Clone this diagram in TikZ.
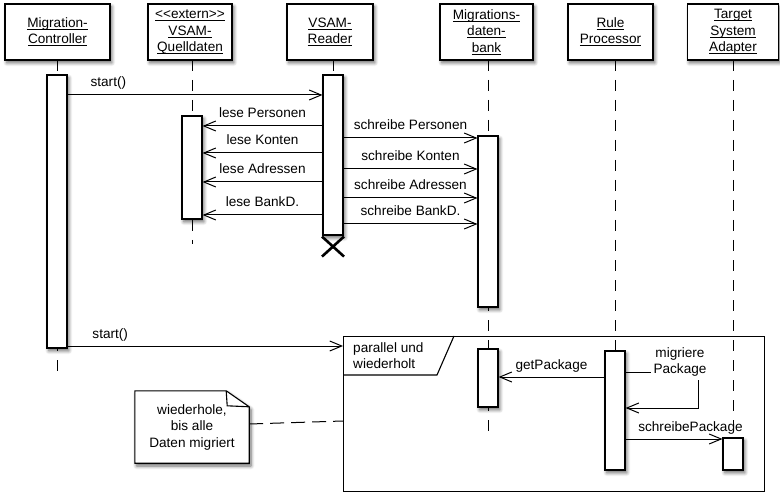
\documentclass[tikz,border=0pt]{standalone}
\usepackage{fontspec}
\setmainfont{Liberation Sans}[Ligatures=TeXOff]
\usetikzlibrary{arrows.meta,shadows.blur}

\newcommand{\txtsize}{\fontsize{13.6}{16.5}\selectfont}
% underline with a rule heavy enough to stay visible
\newcommand{\hdrul}[1]{\setbox0\hbox{#1}\rlap{\rule[-2.4pt]{\wd0}{1pt}}\box0}

\tikzset{
  softshadow/.style={blur shadow={shadow xshift=1.8pt, shadow yshift=-2.8pt,
      shadow blur steps=6, shadow blur radius=3.5pt, shadow opacity=60}},
  hdr/.style={draw, line width=1.1pt, fill=white, softshadow, minimum height=56,
      align=center, inner sep=0pt, font=\txtsize},
  act/.style={draw, line width=1.1pt, fill=white, softshadow, minimum width=20,
      inner sep=0pt},
  life/.style={line width=1pt, dash pattern=on 11pt off 9pt},
  msg/.style={line width=1pt,
      -{Straight Barb[length=12pt, width=10pt, line width=1pt]}},
  lbl/.style={font=\txtsize, anchor=base, inner sep=0pt, yshift=8pt},
  txt/.style={font=\txtsize, inner sep=0pt},
  notelink/.style={line width=1pt, dash pattern=on 14pt off 7pt},
}

\begin{document}
\begin{tikzpicture}[x=1pt, y=-1pt]
\useasboundingbox (0,0) rectangle (780,492);

% lifeline axes
\coordinate (xC) at (57,0);
\coordinate (xQ) at (192,0);
\coordinate (xR) at (333,0);
\coordinate (xD) at (488,0);
\coordinate (xP) at (615,0);
\coordinate (xT) at (733,0);

% dashed lifelines
\draw[life] (xC |- 0,60) -- (xC |- 0,372);
\draw[life] (xQ |- 0,60) -- (xQ |- 0,244);
\draw[life] (xR |- 0,60) -- (xR |- 0,75);
\draw[life] (xD |- 0,60) -- (xD |- 0,436);
\draw[life] (xP |- 0,60) -- (xP |- 0,478);
\draw[life] (xT |- 0,60) -- (xT |- 0,477);

% participants
\node[hdr, minimum width=105] (hC) at (57.5,32) {\hdrul{Migration-}\\\hdrul{Controller}};
\node[hdr, minimum width=84]  (hQ) at (190,32) {\hdrul{<<extern>>}\\\hdrul{VSAM-}\\\hdrul{Quelldaten}};
\node[hdr, minimum width=86]  (hR) at (330,32) {\hdrul{VSAM-}\\\hdrul{Reader}};
\node[hdr, minimum width=93]  (hD) at (486.5,32) {\hdrul{Migrations-}\\\hdrul{daten-}\\\hdrul{bank}};
\node[hdr, minimum width=85]  (hP) at (610.5,32) {\hdrul{Rule}\\\hdrul{Processor}};
\node[hdr, minimum width=91]  (hT) at (733,32) {\hdrul{Target}\\\hdrul{System}\\\hdrul{Adapter}};

% combined fragment
\node[draw, line width=1.1pt, minimum width=421, minimum height=155, anchor=north west,
      inner sep=0pt] (frame) at (343,336) {};
\draw[line width=1.1pt] (frame.west |- 0,375) -- (437,375) -- (454,336);
\node[txt, align=left, anchor=west] (tab) at (353,355.5) {parallel und\\wiederholt};

% activations
\node[act, minimum height=273] (aC)  at (57,211.5) {};
\node[act, minimum height=160] (aR)  at (333,155) {};
\node[act, minimum height=103] (aQ)  at (192,167.5) {};
\node[act, minimum height=171] (aD1) at (488,221.5) {};
\node[act, minimum height=58]  (aD2) at (488,378) {};
\node[act, minimum height=119] (aP)  at (615,410.5) {};
\node[act, minimum height=32]  (aT)  at (733,454) {};

% destruction of the reader
\draw[line width=2.6pt] ([xshift=-11pt, yshift=-1pt]aR.south) -- ([xshift=11pt, yshift=-21pt]aR.south)
                        ([xshift=11pt, yshift=-1pt]aR.south) -- ([xshift=-11pt, yshift=-21pt]aR.south);

% messages
\draw[msg] (aC.east |- 0,95) -- node[lbl, pos=0.16] {start()} (aR.west |- 0,95);

\draw[msg] (aR.west |- 0,126) -- node[lbl, midway] {lese Personen} (aQ.east |- 0,126);
\draw[msg] (aR.west |- 0,153) -- node[lbl, midway] {lese Konten} (aQ.east |- 0,153);
\draw[msg] (aR.west |- 0,182) -- node[lbl, midway] {lese Adressen} (aQ.east |- 0,182);
\draw[msg] (aR.west |- 0,215) -- node[lbl, midway] {lese BankD.} (aQ.east |- 0,215);

\draw[msg] (aR.east |- 0,138) -- node[lbl, midway] {schreibe Personen} (aD1.west |- 0,138);
\draw[msg] (aR.east |- 0,169) -- node[lbl, midway] {schreibe Konten} (aD1.west |- 0,169);
\draw[msg] (aR.east |- 0,198) -- node[lbl, midway] {schreibe Adressen} (aD1.west |- 0,198);
\draw[msg] (aR.east |- 0,224) -- node[lbl, midway] {schreibe BankD.} (aD1.west |- 0,224);

\draw[msg] (aC.east |- 0,346) -- node[lbl, pos=0.155] {start()} (frame.west |- 0,346);

\draw[msg] (aP.west |- 0,377) -- node[lbl, midway] {getPackage} (aD2.east |- 0,377);
\draw[msg] (aP.east |- 0,372) -- (698,372) -- (698,408) -- (aP.east |- 0,408);
\node[txt, fill=white, inner sep=3pt, align=center] (selfmsg) at (680,362) {migriere\\Package};
\draw[msg] (aP.east |- 0,439) -- node[lbl, pos=0.67] {schreibePackage} (aT.west |- 0,439);

% note
\node[minimum width=114, minimum height=72, inner sep=0pt] (note) at (192,427) {};
\draw[line width=1.1pt, fill=white, softshadow]
  (note.north west) -- ([xshift=-23pt]note.north east) -- ([yshift=-16pt]note.north east)
  -- (note.south east) -- (note.south west) -- cycle;
\draw[line width=1.1pt] ([xshift=-23pt]note.north east) -- ([xshift=-22pt, yshift=-15pt]note.north east)
  -- ([yshift=-16pt]note.north east);
\node[txt, align=center] (notetext) at (note.center) {wiederhole,\\bis alle\\Daten migriert};
\draw[notelink] (note.east |- 0,424) -- (frame.west |- 0,421);
\end{tikzpicture}
\end{document}
